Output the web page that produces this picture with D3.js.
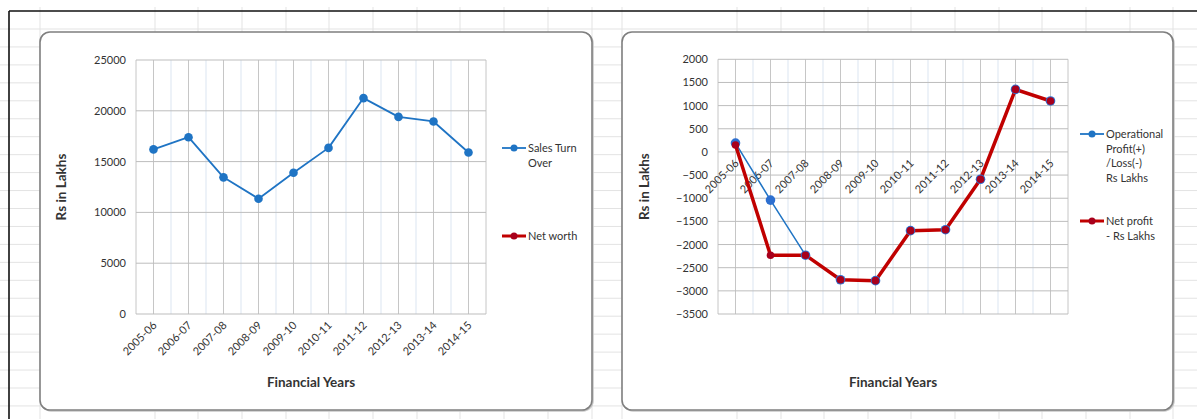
<!DOCTYPE html>
<html>
<head>
<meta charset="utf-8">
<script src="https://cdn.jsdelivr.net/npm/d3@7/dist/d3.min.js"></script>
<style>
  html, body { margin: 0; padding: 0; background: #fff; }
  svg { display: block; }
  text { font-family: Lato, "Liberation Sans", sans-serif; fill: #333; }
</style>
</head>
<body>
<svg id="sheet" width="1197" height="419"></svg>
<script>
// Financial years shared by both charts
const categories = ["2005-06", "2006-07", "2007-08", "2008-09", "2009-10",
                    "2010-11", "2011-12", "2012-13", "2013-14", "2014-15"];

// Left chart: turnover and net worth (Rs in Lakhs)
const salesTurnOver = [16200, 17400, 13450, 11350, 13900, 16350, 21250, 19400, 18950, 15900];
const netWorth = [null, null, null, null, null, null, null, null, null, null];
const leftTicks = [0, 5000, 10000, 15000, 20000, 25000];

// Right chart: profit figures (Rs in Lakhs)
const operationalProfit = [190, -1040, -2230, -2760, -2780, -1700, -1680, -590, 1350, 1100];
const netProfit = [150, -2230, -2230, -2760, -2780, -1700, -1680, -590, 1350, 1100];
const rightTicks = [-3500, -3000, -2500, -2000, -1500, -1000, -500, 0, 500, 1000, 1500, 2000];

const BLUE = "#1f74c4";
const RED = "#c00000";
const RED_MARK = "#a8001c";

const svg = d3.select("#sheet");

// ---- worksheet backdrop: cell grid and sheet border ----
const bg = svg.append("g");
bg.append("rect").attr("width", 1197).attr("height", 419).attr("fill", "#fff");
const colLines = [40, 155, 198, 242, 286, 329, 373, 417, 460, 504, 548, 592, 622,
                  737, 781, 824, 868, 911, 955, 999, 1042, 1086, 1130, 1173];
const rowLines = d3.range(29, 419, 17.95);
bg.selectAll("line.col").data(colLines).join("line")
  .attr("x1", d => d).attr("x2", d => d).attr("y1", 7).attr("y2", 419)
  .attr("stroke", "#e3e3e3").attr("stroke-width", 1);
bg.selectAll("line.row").data(rowLines).join("line")
  .attr("x1", 0).attr("x2", 1197).attr("y1", d => d).attr("y2", d => d)
  .attr("stroke", "#e3e3e3").attr("stroke-width", 1);
bg.append("line").attr("x1", 9).attr("x2", 1197).attr("y1", 11).attr("y2", 11)
  .attr("stroke", "#111").attr("stroke-width", 1.6);
bg.append("line").attr("x1", 9).attr("x2", 9).attr("y1", 11).attr("y2", 419)
  .attr("stroke", "#111").attr("stroke-width", 1.6);

// hand-drawn pen stroke on the sheet
bg.append("path")
  .attr("d", "M807,375.5 C815,375 818,374 824,373 C830,372 834,371.5 838,371")
  .attr("fill", "none").attr("stroke", "#1a2fe0").attr("stroke-width", 1.6)
  .attr("stroke-linecap", "round");

// ---- chart frame helper ----
function frame(x, y, w, h) {
  svg.append("rect").attr("x", x + 1).attr("y", y + 1).attr("width", w).attr("height", h)
    .attr("rx", 10).attr("fill", "none").attr("stroke", "#c8c8c8").attr("stroke-width", 1.5);
  svg.append("rect").attr("x", x).attr("y", y).attr("width", w).attr("height", h)
    .attr("rx", 10).attr("fill", "#fff").attr("stroke", "#7f7f7f").attr("stroke-width", 1.6);
}

function drawChart(opts) {
  const { left, right, top, bottom, domain, ticks, seriesList, zeroAxis, yTitleX, legend } = opts;
  const g = svg.append("g");
  const x = d3.scaleBand().domain(categories).range([left, right]);
  const cx = c => x(c) + x.bandwidth() / 2;
  const y = d3.scaleLinear().domain(domain).range([bottom, top]);

  // vertical grid: light lines on category boundaries, darker through category centres
  const bounds = categories.map(c => x(c)).slice(1);
  g.selectAll("line.vb").data(bounds).join("line")
    .attr("x1", d => d).attr("x2", d => d).attr("y1", top).attr("y2", bottom)
    .attr("stroke", "#dbe5f1").attr("stroke-width", 1);
  g.selectAll("line.vc").data(categories).join("line")
    .attr("x1", d => cx(d)).attr("x2", d => cx(d)).attr("y1", top).attr("y2", bottom)
    .attr("stroke", "#c6c6c6").attr("stroke-width", 1);
  g.selectAll("line.ve").data([left, right]).join("line")
    .attr("x1", d => d).attr("x2", d => d).attr("y1", top).attr("y2", bottom)
    .attr("stroke", "#c6c6c6").attr("stroke-width", 1);
  // horizontal grid
  g.selectAll("line.h").data(ticks).join("line")
    .attr("x1", left).attr("x2", right).attr("y1", d => y(d)).attr("y2", d => y(d))
    .attr("stroke", "#bdbdbd").attr("stroke-width", 1);

  // value axis labels
  const yAxis = g.append("g").attr("transform", `translate(${left},0)`)
    .call(d3.axisLeft(y).tickValues(ticks).tickSize(0).tickPadding(10).tickFormat(d3.format("d")));
  yAxis.select(".domain").remove();
  yAxis.selectAll("text").style("font-family", "Lato, 'Liberation Sans', sans-serif")
    .style("font-size", "11px").attr("fill", "#303030");

  // category axis labels, rotated
  const axisY = y(zeroAxis);
  const xAxis = g.append("g").attr("transform", `translate(0,${axisY})`)
    .call(d3.axisBottom(x).tickSize(0).tickPadding(0));
  xAxis.select(".domain").remove();
  xAxis.selectAll("text")
    .style("font-family", "Lato, 'Liberation Sans', sans-serif").style("font-size", "11px")
    .attr("fill", "#303030")
    .attr("text-anchor", "end").attr("dy", null).attr("y", 0)
    .attr("transform", "translate(4,12) rotate(-45)");

  // series
  const line = d3.line().defined(d => d.v != null).x(d => cx(d.c)).y(d => y(d.v));
  seriesList.forEach(s => {
    const pts = categories.map((c, i) => ({ c, v: s.values[i] }));
    g.append("path").datum(pts).attr("d", line).attr("fill", "none")
      .attr("stroke", s.color).attr("stroke-width", s.width).attr("stroke-linejoin", "round");
  });
  seriesList.forEach(s => {
    const pts = categories.map((c, i) => ({ c, v: s.values[i] })).filter(d => d.v != null);
    g.selectAll(null).data(pts).join("circle")
      .attr("cx", d => cx(d.c)).attr("cy", d => y(d.v)).attr("r", s.r)
      .attr("fill", s.markColor);
  });

  // axis titles
  g.append("text").attr("x", (left + right) / 2).attr("y", 387)
    .attr("text-anchor", "middle").style("font-weight", "bold").style("font-size", "13.5px")
    .attr("fill", "#1a1a1a").text("Financial Years");
  g.append("text").attr("transform", `translate(${yTitleX},${(top + bottom) / 2}) rotate(-90)`)
    .attr("text-anchor", "middle").style("font-weight", "bold").style("font-size", "13.5px")
    .attr("fill", "#1a1a1a").text("Rs in Lakhs");

  // legend
  legend.items.forEach(it => {
    const lg = g.append("g");
    lg.append("line").attr("x1", legend.x).attr("x2", legend.x + 24)
      .attr("y1", it.y).attr("y2", it.y).attr("stroke", it.color).attr("stroke-width", it.width);
    lg.append("circle").attr("cx", legend.x + 12).attr("cy", it.y).attr("r", 3.5).attr("fill", it.markColor);
    it.lines.forEach((t, k) => {
      lg.append("text").attr("x", legend.x + 26).attr("y", it.y + 4 + k * 14.7)
        .style("font-size", "11px").attr("fill", "#333").text(t);
    });
  });
}

// ---- left chart: Sales Turn Over / Net worth ----
frame(40, 32, 552, 378);
drawChart({
  left: 136, right: 486, top: 60, bottom: 314,
  domain: [0, 25000], ticks: leftTicks, zeroAxis: 0, yTitleX: 66,
  seriesList: [
    { values: salesTurnOver, color: BLUE, width: 1.8, r: 4.3, markColor: BLUE },
    { values: netWorth, color: RED, width: 3.5, r: 4, markColor: RED_MARK }
  ],
  legend: { x: 502, items: [
    { y: 148, color: BLUE, width: 1.8, markColor: BLUE, lines: ["Sales Turn", "Over"] },
    { y: 236, color: RED, width: 3, markColor: RED_MARK, lines: ["Net worth"] }
  ] }
});

// ---- right chart: Operational Profit / Net profit ----
frame(622, 32, 551, 378);
drawChart({
  left: 718, right: 1068, top: 59.3, bottom: 314,
  domain: [-3500, 2000], ticks: rightTicks, zeroAxis: 0, yTitleX: 649,
  seriesList: [
    { values: operationalProfit, color: BLUE, width: 1.5, r: 4.8, markColor: "#2d6fd0" },
    { values: netProfit, color: RED, width: 3.5, r: 3.8, markColor: RED_MARK }
  ],
  legend: { x: 1080, items: [
    { y: 134, color: BLUE, width: 1.8, markColor: BLUE, lines: ["Operational", "Profit(+)", "/Loss(-)", "Rs Lakhs"] },
    { y: 221, color: RED, width: 3, markColor: RED_MARK, lines: ["Net profit", " - Rs Lakhs"] }
  ] }
});
</script>
</body>
</html>
